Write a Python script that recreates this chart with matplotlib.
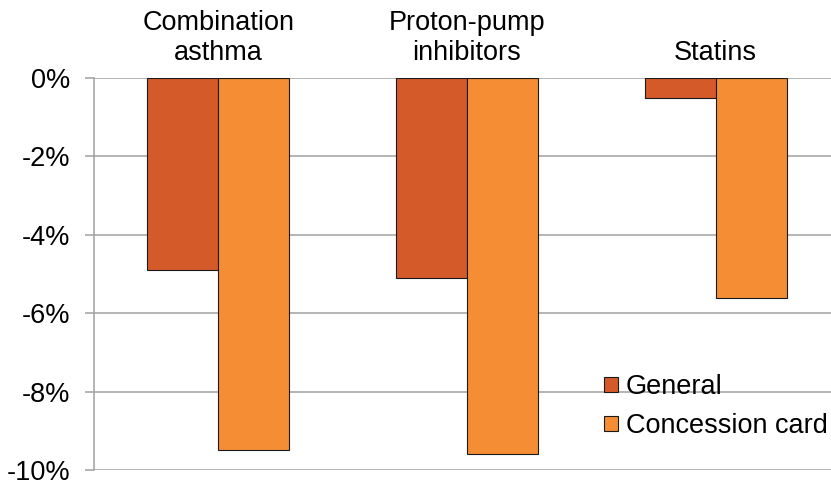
import matplotlib
matplotlib.use("Agg")
import matplotlib.pyplot as plt
import matplotlib.transforms as mtransforms
from matplotlib.ticker import FuncFormatter

plt.rcParams['font.family'] = ['Liberation Sans', 'DejaVu Sans']

categories = ["Combination\nasthma", "Proton-pump\ninhibitors", "Statins"]
series_names = ["General", "Concession card"]
general = [-4.9, -5.1, -0.5]
concession = [-9.5, -9.6, -5.6]
yticks = [0, -2, -4, -6, -8, -10]

colors = ["#D55A2A", "#F58D35"]
fs = 19.5

fig = plt.figure(figsize=(8.31, 4.83), dpi=100)
ax = fig.add_axes([94 / 831, 1 - 470 / 483, (840 - 94) / 831, (470 - 78) / 483])

width = 0.285
x = list(range(len(categories)))
ax.bar([i - width / 2 for i in x], general, width, color=colors[0],
       edgecolor="#1a1a1a", linewidth=0.8, label=series_names[0], zorder=3)
ax.bar([i + width / 2 for i in x], concession, width, color=colors[1],
       edgecolor="#1a1a1a", linewidth=0.8, label=series_names[1], zorder=3)

ax.set_xlim(-0.5, len(categories) - 0.5)
ax.set_ylim(-10, 0)
ax.set_yticks(yticks)
ax.yaxis.set_major_formatter(FuncFormatter(lambda v, p: f"{v:.0f}%"))
ax.grid(axis="y", color="#a0a0a0", linewidth=1.1, zorder=0)
ax.set_xticks([])

for s in ["top", "right", "bottom"]:
    ax.spines[s].set_visible(False)
ax.spines["left"].set_color("#a0a0a0")
ax.spines["left"].set_linewidth(1.1)
ax.tick_params(axis="y", length=6.5, width=1.1, color="#a0a0a0",
               pad=10.5, labelsize=fs)

trans = mtransforms.blended_transform_factory(ax.transData, ax.transAxes)
for i, c in enumerate(categories):
    ax.text(i, 1.030, c, transform=trans, ha="center", va="bottom",
            fontsize=fs, linespacing=1.2)

ax.legend(loc="upper left", bbox_to_anchor=(0.727, 0.226),
          bbox_transform=fig.transFigure, frameon=False, fontsize=fs,
          handlelength=0.5, handleheight=0.5, handletextpad=0.3,
          labelspacing=0.5, borderpad=0, borderaxespad=0)

fig.savefig("out.png", dpi=100)
